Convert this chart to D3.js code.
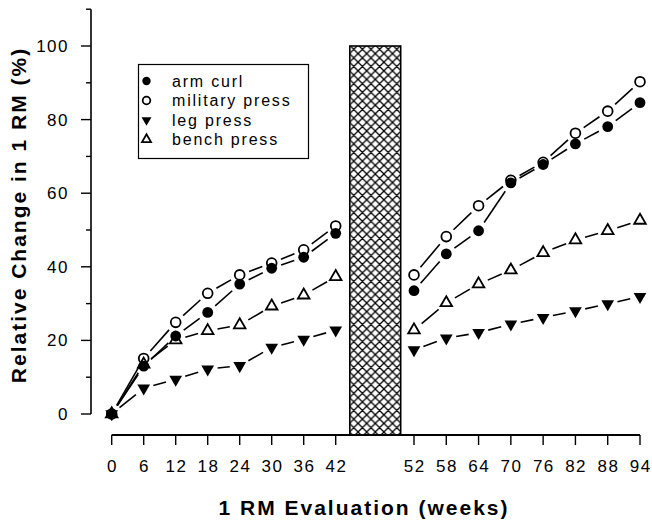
<!DOCTYPE html>
<html>
<head>
<meta charset="utf-8">
<script src="https://cdn.jsdelivr.net/npm/d3@7"></script>
<style>
	body { margin: 0; background: #fff; }
	text { font-family: "Liberation Sans", Arial, sans-serif; fill: #000; }
</style>
</head>
<body>
<svg id="chart" width="652" height="524"></svg>
<script>
// weeks of each 1 RM evaluation, before and after the break
const WEEKS = [0, 6, 12, 18, 24, 30, 36, 42, 52, 58, 64, 70, 76, 82, 88, 94];
const BREAK_AFTER = 42;
const BREAK_WEEKS = [43.8, 50.3];

const armCurl = [0, 13, 21.2, 27.6, 35.3, 39.6, 42.6, 49.1, 33.5, 43.5, 49.8, 62.8, 67.8, 73.4, 78.1, 84.6];
const militaryPress = [0, 15.1, 24.9, 32.8, 37.8, 41.0, 44.6, 51.1, 37.8, 48.2, 56.6, 63.5, 68.4, 76.3, 82.3, 90.3];
const legPress = [0, 7.0, 9.4, 12.2, 13.1, 18.1, 20.3, 22.8, 17.4, 20.6, 22.1, 24.4, 26.2, 28.0, 29.9, 31.9];
const benchPress = [0, 13.5, 20.1, 22.6, 24.2, 29.3, 32.3, 37.3, 22.8, 30.2, 35.3, 39.1, 43.8, 47.3, 49.8, 52.6];

const Y_TICKS = [0, 20, 40, 60, 80, 100];

const SERIES = [
	{ name: "military press", values: militaryPress, marker: "openCircle" },
	{ name: "bench press", values: benchPress, marker: "openTriangle" },
	{ name: "leg press", values: legPress, marker: "downTriangle" },
	{ name: "arm curl", values: armCurl, marker: "filledCircle" },
];
const LEGEND_ORDER = ["arm curl", "military press", "leg press", "bench press"];

const svg = d3.select("#chart");

// x axis has a stretched gap between 42 and 52
const xScale = d3.scaleLinear()
	.domain([0, 42, 52, 94])
	.range([111.7, 335.7, 414, 640]);
const yScale = d3.scaleLinear()
	.domain([0, 110])
	.range([414, 9.2]);

const AXIS_X = 91;
const XAXIS_Y = 435;

// hatch pattern for the break bar
const defs = svg.append("defs");
const pat = defs.append("pattern")
	.attr("id", "hatch")
	.attr("patternUnits", "userSpaceOnUse")
	.attr("width", 8.6)
	.attr("height", 8.6)
	.attr("x", 349.5)
	.attr("y", 45);
pat.append("rect").attr("width", 8.6).attr("height", 8.6).attr("fill", "#fff");
pat.append("path")
	.attr("d", "M0,0L8.6,8.6M8.6,0L0,8.6M-1,7.6L1,9.6M7.6,-1L9.6,1M-1,1L1,-1M7.6,9.6L9.6,7.6")
	.attr("stroke", "#000")
	.attr("stroke-width", 1.3);

svg.append("rect")
	.attr("x", xScale(BREAK_WEEKS[0]))
	.attr("y", yScale(100))
	.attr("width", xScale(BREAK_WEEKS[1]) - xScale(BREAK_WEEKS[0]))
	.attr("height", XAXIS_Y - yScale(100))
	.attr("fill", "url(#hatch)")
	.attr("stroke", "#000")
	.attr("stroke-width", 1.6);

// y axis
const yAxis = svg.append("g");
yAxis.append("line")
	.attr("x1", AXIS_X).attr("x2", AXIS_X)
	.attr("y1", yScale(110)).attr("y2", yScale(0))
	.attr("stroke", "#000").attr("stroke-width", 1.6);
yAxis.selectAll(".ytick")
	.data(d3.range(0, 111, 10))
	.join("line")
	.attr("x1", d => d % 20 === 0 ? AXIS_X - 10 : AXIS_X - 5)
	.attr("x2", AXIS_X)
	.attr("y1", d => yScale(d))
	.attr("y2", d => yScale(d))
	.attr("stroke", "#000").attr("stroke-width", 1.4);
yAxis.selectAll(".ylabel")
	.data(Y_TICKS)
	.join("text")
	.attr("x", 69)
	.attr("y", d => yScale(d) + 6)
	.attr("text-anchor", "end")
	.attr("font-size", 17)
	.attr("letter-spacing", 1.5)
	.text(d => d);

// x axis
const xAxis = svg.append("g");
xAxis.append("line")
	.attr("x1", xScale(0)).attr("x2", xScale(94))
	.attr("y1", XAXIS_Y).attr("y2", XAXIS_Y)
	.attr("stroke", "#000").attr("stroke-width", 1.8);
xAxis.selectAll(".xtick")
	.data(WEEKS)
	.join("line")
	.attr("x1", d => xScale(d)).attr("x2", d => xScale(d))
	.attr("y1", XAXIS_Y).attr("y2", XAXIS_Y + 10)
	.attr("stroke", "#000").attr("stroke-width", 1.4);
xAxis.selectAll(".xlabel")
	.data(WEEKS)
	.join("text")
	.attr("x", d => xScale(d) + 0.7)
	.attr("y", 471.5)
	.attr("text-anchor", "middle")
	.attr("font-size", 17)
	.attr("letter-spacing", 1.5)
	.text(d => d);

// titles
svg.append("text")
	.attr("x", 364)
	.attr("y", 515)
	.attr("text-anchor", "middle")
	.attr("font-size", 21)
	.attr("font-weight", "bold")
	.attr("letter-spacing", 2)
	.text("1 RM Evaluation (weeks)");
svg.append("text")
	.attr("transform", "translate(26,215) rotate(-90)")
	.attr("text-anchor", "middle")
	.attr("font-size", 21)
	.attr("font-weight", "bold")
	.attr("letter-spacing", 2)
	.text("Relative Change in 1 RM (%)");

// markers
function drawMarker(g, type, x, y, s) {
	if (type === "filledCircle") {
		g.append("circle").attr("cx", x).attr("cy", y).attr("r", 5.4 * s).attr("fill", "#000");
	} else if (type === "openCircle") {
		g.append("circle").attr("cx", x).attr("cy", y).attr("r", 4.9 * s)
			.attr("fill", "#fff").attr("stroke", "#000").attr("stroke-width", 1.8);
	} else if (type === "openTriangle") {
		g.append("path")
			.attr("d", d3.symbol(d3.symbolTriangle, 58 * s * s)())
			.attr("transform", `translate(${x},${y})`)
			.attr("fill", "#fff").attr("stroke", "#000").attr("stroke-width", 1.8);
	} else {
		g.append("path")
			.attr("d", d3.symbol(d3.symbolTriangle, 70 * s * s)())
			.attr("transform", `translate(${x},${y}) rotate(180)`)
			.attr("fill", "#000");
	}
}

// dashed connecting lines: one trimmed segment between neighbouring points
const TRIM = 10;
const lineG = svg.append("g");
for (const s of SERIES) {
	for (let i = 0; i < WEEKS.length - 1; i++) {
		if (WEEKS[i] === BREAK_AFTER) continue;
		const x1 = xScale(WEEKS[i]), y1 = yScale(s.values[i]);
		const x2 = xScale(WEEKS[i + 1]), y2 = yScale(s.values[i + 1]);
		const len = Math.hypot(x2 - x1, y2 - y1);
		const ux = (x2 - x1) / len, uy = (y2 - y1) / len;
		lineG.append("line")
			.attr("x1", x1 + ux * TRIM).attr("y1", y1 + uy * TRIM)
			.attr("x2", x2 - ux * TRIM).attr("y2", y2 - uy * TRIM)
			.attr("stroke", "#000")
			.attr("stroke-width", 1.6);
	}
}

const markG = svg.append("g");
for (const s of SERIES) {
	s.values.forEach((v, i) => drawMarker(markG, s.marker, xScale(WEEKS[i]), yScale(v), 1));
}

// legend
const legend = svg.append("g");
legend.append("rect")
	.attr("x", 138.5).attr("y", 64.5)
	.attr("width", 170).attr("height", 94)
	.attr("fill", "#fff").attr("stroke", "#000").attr("stroke-width", 1.2);
LEGEND_ORDER.forEach((name, i) => {
	const s = SERIES.find(d => d.name === name);
	const cy = 81 + i * 19.5;
	drawMarker(legend, s.marker, 146.5, cy, 0.78);
	legend.append("text")
		.attr("x", 172)
		.attr("y", cy + 5.5)
		.attr("font-size", 16)
		.attr("letter-spacing", 1.8)
		.text(name);
});
</script>
</body>
</html>
